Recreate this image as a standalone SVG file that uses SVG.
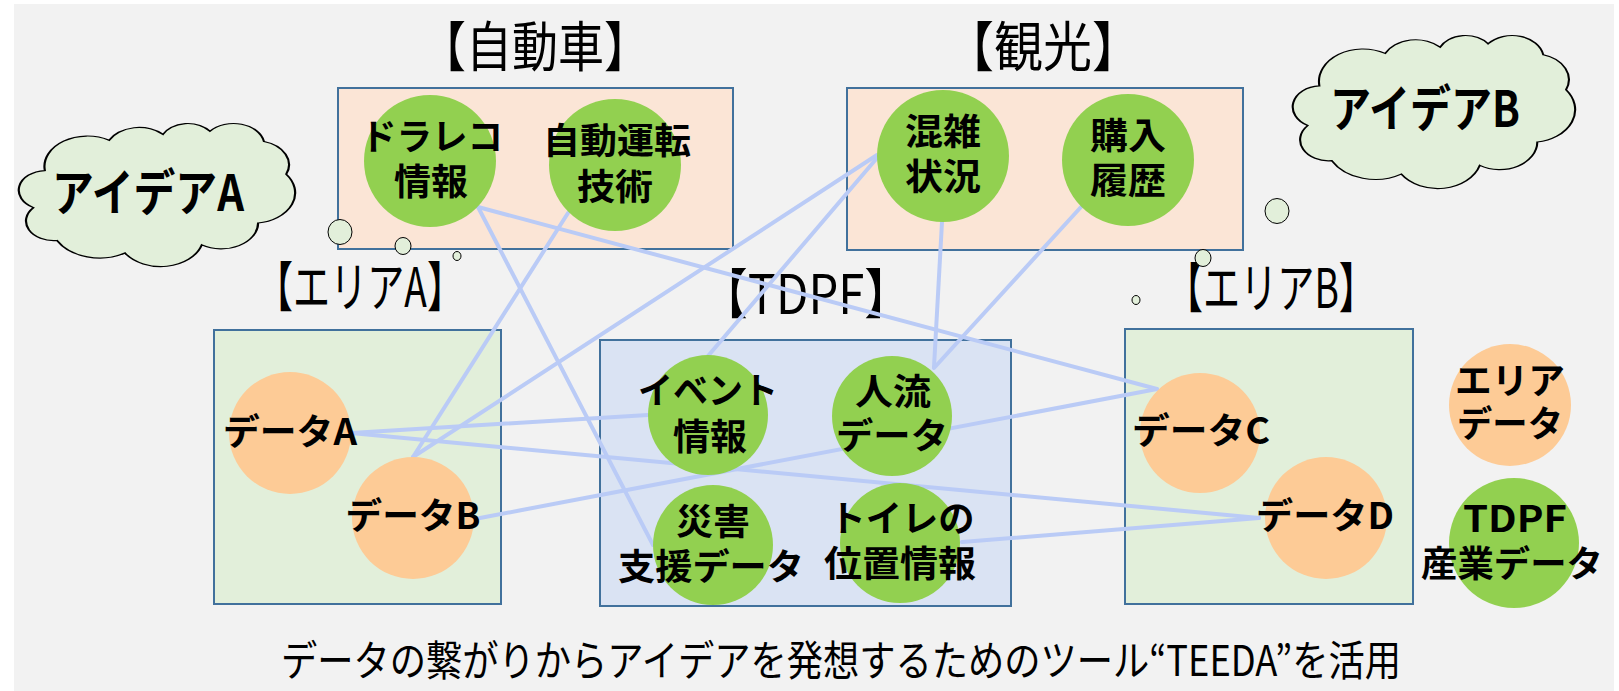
<svg xmlns="http://www.w3.org/2000/svg" width="1619" height="691" viewBox="0 0 1619 691">
<defs>
<style>
.box{stroke:#41719c;stroke-width:2}
.warm{fill:#fbe5d6}
.area{fill:#e2efda}
.tdpf{fill:#dae3f3}
.g{fill:#92d050}
.o{fill:#fdcb96}
.cloud{fill:#e2efda;stroke:#000}
.bub{fill:#e2efda;stroke:#000;stroke-width:1}
.title{font-family:"Noto Sans CJK JP","Liberation Sans",sans-serif;font-size:54px;fill:#000;text-anchor:middle}
.lbl{font-family:"Noto Sans CJK JP","Liberation Sans",sans-serif;font-size:36px;font-weight:bold;fill:#000;text-anchor:middle}
.big{font-family:"Noto Sans CJK JP","Liberation Sans",sans-serif;font-size:50px;font-weight:bold;fill:#000;text-anchor:middle}
.foot{font-family:"Noto Sans CJK JP","Liberation Sans",sans-serif;font-size:42px;fill:#000;text-anchor:middle}
#connectors line{stroke:#bacbf6;stroke-width:4;stroke-linecap:round}
</style>
<path id="cloudShape" d="M90.3,332.6 A156.3,212.7 0 0 1 324.2,120.4 A123.4,168.2 0 0 1 519.9,79.6 A101,137.6 0 0 1 690.7,57.6 A112.4,152.7 0 0 1 887.1,129.2 A123.4,168.4 0 0 1 968.1,358 A156.8,213.4 0 0 1 865.9,699.3 A133.9,182.1 0 0 1 661.1,852.3 A156.3,213.3 0 0 1 381.6,909.1 A178.7,244.1 0 0 1 134.5,821.3 A100.9,137 0 0 1 49,591.6 A100.6,137.6 0 0 1 90.3,332.6 Z"/>
</defs>
<rect x="0" y="0" width="1619" height="691" fill="#ffffff"/>
<rect x="14" y="4" width="1600" height="687" fill="#f2f2f2"/>

<!-- group boxes -->
<g id="box-car"><rect class="box warm" x="338" y="88" width="395" height="161"/><text class="title" x="535" y="67" textLength="230" lengthAdjust="spacingAndGlyphs">【自動車】</text></g>
<g id="box-tourism"><rect class="box warm" x="847" y="88" width="396" height="162"/><text class="title" x="1043" y="67" textLength="196" lengthAdjust="spacingAndGlyphs">【観光】</text></g>
<g id="box-areaA"><rect class="box area" x="214" y="330" width="287" height="274"/><text class="title" x="360" y="307" textLength="208" lengthAdjust="spacingAndGlyphs">【エリアA】</text></g>
<g id="box-tdpf"><rect class="box tdpf" x="600" y="340" width="411" height="266"/><text class="title" x="806" y="314" textLength="211" lengthAdjust="spacingAndGlyphs">【TDPF】</text></g>
<g id="box-areaB"><rect class="box area" x="1125" y="329" width="288" height="275"/><text class="title" x="1271" y="308" textLength="210" lengthAdjust="spacingAndGlyphs">【エリアB】</text></g>

<!-- clouds -->
<g id="idea-a">
<use href="#cloudShape" class="cloud" transform="translate(20,123) scale(0.275,0.143)" style="stroke-width:8"/>
<ellipse class="bub" cx="340" cy="232" rx="12" ry="12.5"/>
<ellipse class="bub" cx="403" cy="246" rx="8" ry="8.5"/>
<ellipse class="bub" cx="457" cy="256" rx="4" ry="4.5"/>
<text class="big" x="148" y="211" textLength="192" lengthAdjust="spacingAndGlyphs">アイデアA</text>
</g>
<g id="idea-b">
<use href="#cloudShape" class="cloud" transform="translate(1294,35) scale(0.281,0.153)" style="stroke-width:7.5"/>
<ellipse class="bub" cx="1277" cy="211" rx="12" ry="12.5"/>
<ellipse class="bub" cx="1203" cy="258" rx="8" ry="8.5"/>
<ellipse class="bub" cx="1136" cy="300" rx="4" ry="4.5"/>
<text class="big" x="1425" y="127" textLength="190" lengthAdjust="spacingAndGlyphs">アイデアB</text>
</g>

<!-- connectors -->
<g id="connectors">
<line x1="478" y1="207" x2="1157" y2="389"/>
<line x1="478" y1="207" x2="653" y2="545"/>
<line x1="568" y1="213" x2="413" y2="457"/>
<line x1="877" y1="155" x2="413" y2="457"/>
<line x1="877" y1="158" x2="708" y2="356"/>
<line x1="942" y1="222" x2="934" y2="367"/>
<line x1="1081" y1="207" x2="934" y2="368"/>
<line x1="351" y1="433" x2="648" y2="415"/>
<line x1="351" y1="433" x2="1259" y2="518"/>
<line x1="480" y1="518" x2="1157" y2="389"/>
<line x1="962" y1="542" x2="1259" y2="518"/>
</g>

<!-- nodes -->
<g id="n-dorareco"><circle class="g" cx="430" cy="161" r="66"/><text class="lbl" x="432" y="150" textLength="142" lengthAdjust="spacingAndGlyphs">ドラレコ</text><text class="lbl" x="431" y="195" textLength="74" lengthAdjust="spacingAndGlyphs">情報</text></g>
<g id="n-autodrive"><circle class="g" cx="615" cy="165" r="66"/><text class="lbl" x="617" y="154" textLength="148" lengthAdjust="spacingAndGlyphs">自動運転</text><text class="lbl" x="615" y="200" textLength="76" lengthAdjust="spacingAndGlyphs">技術</text></g>
<g id="n-congestion"><circle class="g" cx="943" cy="156" r="66"/><text class="lbl" x="943" y="145" textLength="76" lengthAdjust="spacingAndGlyphs">混雑</text><text class="lbl" x="943" y="190" textLength="76" lengthAdjust="spacingAndGlyphs">状況</text></g>
<g id="n-purchase"><circle class="g" cx="1128" cy="160" r="66"/><text class="lbl" x="1128" y="149" textLength="76" lengthAdjust="spacingAndGlyphs">購入</text><text class="lbl" x="1128" y="194" textLength="76" lengthAdjust="spacingAndGlyphs">履歴</text></g>
<g id="n-dataA"><circle class="o" cx="290" cy="433" r="61"/><text class="lbl" x="290" y="445" textLength="134" lengthAdjust="spacingAndGlyphs">データA</text></g>
<g id="n-dataB"><circle class="o" cx="413" cy="518" r="61"/><text class="lbl" x="413" y="529" textLength="135" lengthAdjust="spacingAndGlyphs">データB</text></g>
<g id="n-event"><circle class="g" cx="708" cy="415" r="60"/><text class="lbl" x="708" y="404" textLength="140" lengthAdjust="spacingAndGlyphs">イベント</text><text class="lbl" x="710" y="450" textLength="74" lengthAdjust="spacingAndGlyphs">情報</text></g>
<g id="n-flow"><circle class="g" cx="892" cy="416" r="60"/><text class="lbl" x="893" y="405" textLength="76" lengthAdjust="spacingAndGlyphs">人流</text><text class="lbl" x="892" y="449" textLength="112" lengthAdjust="spacingAndGlyphs">データ</text></g>
<g id="n-disaster"><circle class="g" cx="713" cy="545" r="60"/><text class="lbl" x="713" y="535" textLength="74" lengthAdjust="spacingAndGlyphs">災害</text><text class="lbl" x="711" y="580" textLength="186" lengthAdjust="spacingAndGlyphs">支援データ</text></g>
<g id="n-toilet"><circle class="g" cx="900" cy="543" r="60"/><text class="lbl" x="902" y="532" textLength="145" lengthAdjust="spacingAndGlyphs">トイレの</text><text class="lbl" x="900" y="577" textLength="152" lengthAdjust="spacingAndGlyphs">位置情報</text></g>
<g id="n-dataC"><circle class="o" cx="1200" cy="433" r="60"/><text class="lbl" x="1201" y="444" textLength="138" lengthAdjust="spacingAndGlyphs">データC</text></g>
<g id="n-dataD"><circle class="o" cx="1326" cy="518" r="61"/><text class="lbl" x="1325" y="529" textLength="138" lengthAdjust="spacingAndGlyphs">データD</text></g>
<g id="legend-area"><circle class="o" cx="1510" cy="405" r="61"/><text class="lbl" x="1510" y="394" textLength="110" lengthAdjust="spacingAndGlyphs">エリア</text><text class="lbl" x="1510" y="437" textLength="106" lengthAdjust="spacingAndGlyphs">データ</text></g>
<g id="legend-tdpf"><circle class="g" cx="1514" cy="543" r="65"/><text class="lbl" x="1515" y="532" textLength="104" lengthAdjust="spacingAndGlyphs">TDPF</text><text class="lbl" x="1512" y="577" textLength="182" lengthAdjust="spacingAndGlyphs">産業データ</text></g>

<text class="foot" x="841" y="676" textLength="1120" lengthAdjust="spacingAndGlyphs">データの繋がりからアイデアを発想するためのツール“TEEDA”を活用</text>
</svg>
